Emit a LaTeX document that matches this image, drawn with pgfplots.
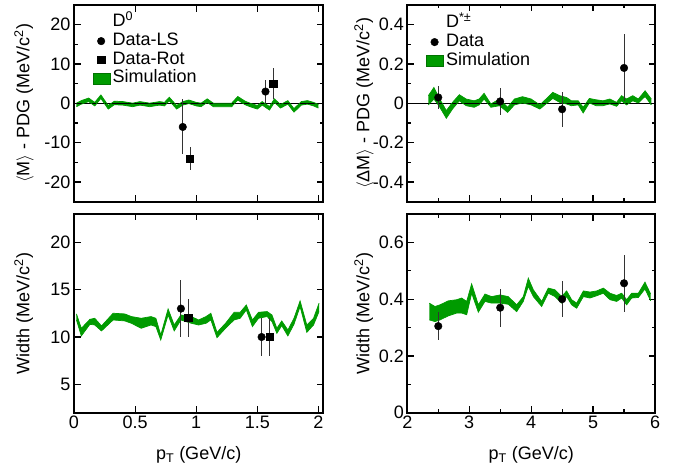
\documentclass[border=0pt]{standalone}
\usepackage{fontspec}
\setmainfont{Liberation Sans}
\usepackage{pgfplots}
\usepackage{pgfplotstable}
\pgfplotsset{compat=1.18}
\usepgfplotslibrary{fillbetween}
\definecolor{simgreen}{RGB}{0,155,0}

% simulation bands: x, lower edge, upper edge
\pgfplotstableread{
x lo hi
0.02 -0.85 0.05
0.06 -0.20 0.70
0.12 0.45 1.35
0.17 -0.65 0.25
0.22 1.25 2.15
0.28 -1.45 -0.55
0.33 -0.35 0.55
0.40 -0.45 0.45
0.48 -0.85 0.05
0.54 -0.45 0.45
0.62 -0.85 0.05
0.70 -0.45 0.45
0.74 -0.65 0.25
0.78 0.65 1.55
0.84 -1.45 -0.55
0.89 -0.45 0.45
0.94 -0.05 0.85
1.00 -0.65 0.25
1.04 -0.85 0.05
1.09 0.25 1.15
1.14 -0.85 0.05
1.21 -0.85 0.05
1.29 -0.85 0.05
1.34 0.85 1.75
1.40 -0.35 0.55
1.44 -0.85 0.05
1.50 -1.45 -0.55
1.54 -0.45 0.45
1.60 -1.70 -0.80
1.64 0.25 1.15
1.69 -1.20 -0.30
1.75 -0.20 0.70
1.80 -2.25 -1.35
1.86 -0.45 0.45
1.91 -0.20 0.70
1.96 -0.65 0.25
2.00 -1.20 -0.30
}\bandMA

\pgfplotstableread{
x lo hi
2.34 -0.008 0.039
2.43 0.022 0.081
2.51 -0.012 0.030
2.63 -0.076 -0.037
2.73 -0.029 0.005
2.84 0.013 0.044
2.95 -0.012 0.022
3.08 -0.020 0.013
3.16 -0.008 0.022
3.24 0.022 0.051
3.35 -0.020 -0.003
3.49 -0.012 0.022
3.62 -0.046 -0.020
3.73 -0.008 0.022
3.86 0.002 0.034
4.00 -0.008 0.022
4.14 -0.029 -0.008
4.24 -0.003 0.022
4.35 0.025 0.056
4.46 0.005 0.039
4.57 -0.003 0.030
4.65 -0.012 0.013
4.76 -0.008 0.013
4.84 -0.049 -0.020
4.94 0.002 0.025
5.05 -0.012 0.018
5.16 -0.012 0.013
5.27 -0.003 0.022
5.38 -0.015 0.005
5.46 0.013 0.039
5.54 -0.008 0.022
5.64 0.013 0.039
5.73 0.002 0.022
5.84 0.035 0.064
5.94 -0.008 0.022
}\bandMB

\pgfplotstableread{
x lo hi
0.02 11.80 12.44
0.06 10.11 10.92
0.13 11.34 11.87
0.17 11.27 11.98
0.225 10.64 11.17
0.32 11.80 12.51
0.415 11.70 12.44
0.47 11.45 12.16
0.55 10.92 11.98
0.63 11.27 12.16
0.67 11.10 11.98
0.71 9.68 10.21
0.77 12.33 12.97
0.82 10.64 11.27
0.875 11.80 12.33
0.96 11.45 12.16
1.02 11.27 11.80
1.08 11.45 12.16
1.12 11.80 12.51
1.17 9.93 10.49
1.24 10.92 11.45
1.31 11.80 12.61
1.36 11.98 12.61
1.41 12.86 13.39
1.46 11.10 11.80
1.51 11.98 12.61
1.58 12.16 12.69
1.62 11.63 12.33
1.66 10.39 10.92
1.70 11.20 11.70
1.75 10.11 10.74
1.80 11.34 11.98
1.85 13.22 13.82
1.905 10.49 11.27
1.96 11.27 11.98
2.005 12.69 13.57
}\bandWA

\pgfplotstableread{
x lo hi
2.355 0.327 0.386
2.447 0.321 0.374
2.528 0.327 0.380
2.662 0.341 0.394
2.797 0.351 0.398
2.878 0.351 0.404
2.959 0.345 0.392
3.039 0.421 0.454
3.147 0.354 0.380
3.254 0.392 0.418
3.362 0.386 0.409
3.497 0.386 0.415
3.631 0.382 0.409
3.766 0.356 0.380
3.873 0.392 0.409
3.954 0.445 0.474
4.035 0.409 0.433
4.170 0.374 0.392
4.277 0.421 0.439
4.385 0.409 0.433
4.493 0.386 0.409
4.573 0.409 0.429
4.654 0.380 0.398
4.735 0.368 0.386
4.843 0.409 0.429
4.950 0.404 0.425
5.058 0.412 0.429
5.166 0.421 0.439
5.273 0.398 0.421
5.381 0.392 0.413
5.462 0.404 0.421
5.542 0.380 0.398
5.623 0.404 0.421
5.731 0.406 0.421
5.838 0.436 0.460
5.930 0.394 0.418
}\bandWB

\pgfplotsset{
  panel/.style={
    scale only axis,
    tick align=inside,
    xtick pos=both, ytick pos=both,
    axis line style={line width=1.8pt},
    tick style={line width=1.2pt, black},
    major tick length=6.5pt, minor tick length=3.5pt,
    /pgf/number format/assume math mode=true,
    legend cell align=left,
    legend style={draw=none, fill=none, inner sep=0pt, row sep=0.3pt, column sep=1pt,
      nodes={inner sep=1pt, text height=12.5pt, text depth=4pt}},
  },
  band/.style={draw=simgreen, line width=0.7pt, forget plot},
  errs/.style={forget plot, black, only marks,
    error bars/y dir=both, error bars/y explicit, error bars/error mark=none,
    error bars/error bar style={line width=1pt, black!80}},
  markleg/.style={legend image code/.code={\draw[mark repeat=2,mark phase=2,##1] plot coordinates {(0pt,0pt) (8pt,0pt) (16pt,0pt)};}},
  boxleg/.style={legend image code/.code={\draw[##1] (0pt,-5.5pt) rectangle (17pt,5.5pt);}},
}

\begin{document}
\begin{tikzpicture}[font=\fontsize{18}{21}\selectfont]

% top left: D0 mass
\begin{axis}[panel, at={(74pt,269.3pt)}, anchor=south west,
  width=249.3pt, height=196.7pt,
  xmin=0, xmax=2.04, ymin=-25, ymax=25,
  xtick={0,0.5,1,1.5,2}, xticklabels={},
  ytick={-20,-10,0,10,20}, minor y tick num=1,
  ylabel={$\langle$M$\rangle$ - PDG (MeV/c\textsuperscript{2})},
  ylabel style={at={(axis description cs:-0.179,0.5)}, anchor=base},
  legend style={at={(axis description cs:0.074,0.96)}, anchor=north west}]
\addplot[black, line width=0.8pt, forget plot] coordinates {(0,0) (2.04,0)};
\addplot[band, name path=ua] table[x=x,y=hi]{\bandMA};
\addplot[band, name path=la] table[x=x,y=lo]{\bandMA};
\addplot[simgreen, forget plot] fill between[of=ua and la];
\addplot[errs, mark=*, mark size=3.8pt] coordinates {(0.89,-6) +- (0,7) (1.567,3) +- (0,3)};
\addplot[errs, mark=square*, mark size=3.6pt] coordinates {(0.95,-14) +- (0,3) (1.63,5) +- (0,4)};
\addlegendimage{empty legend}
\addlegendentry{D\textsuperscript{0}}
\addlegendimage{only marks, black, mark=*, mark size=3.8pt, markleg}
\addlegendentry{Data-LS}
\addlegendimage{only marks, black, mark=square*, mark size=3.6pt, markleg}
\addlegendentry{Data-Rot}
\addlegendimage{boxleg, fill=simgreen, draw=black!55!green, line width=1pt}
\addlegendentry{Simulation}
\end{axis}

% bottom left: D0 width
\begin{axis}[panel, at={(74pt,58.3pt)}, anchor=south west,
  width=249.3pt, height=198.7pt,
  xmin=0, xmax=2.04, ymin=2, ymax=23,
  xtick={0,0.5,1,1.5,2},
  ytick={5,10,15,20},
  ylabel={Width (MeV/c\textsuperscript{2})},
  ylabel style={at={(axis description cs:-0.179,0.5)}, anchor=base},
  xlabel={p\textsubscript{T} (GeV/c)},
  xlabel style={at={(axis description cs:0.5,-0.2345)}, anchor=base}]
\addplot[band, name path=ub] table[x=x,y=hi]{\bandWA};
\addplot[band, name path=lb] table[x=x,y=lo]{\bandWA};
\addplot[simgreen, forget plot] fill between[of=ub and lb];
\addplot[errs, mark=*, mark size=3.8pt] coordinates {(0.875,13) +- (0,3) (1.535,10) +- (0,2)};
\addplot[errs, mark=square*, mark size=3.6pt] coordinates {(0.935,12) +- (0,2) (1.60,10) +- (0,2)};
\end{axis}

% top right: D* mass difference
\begin{axis}[panel, at={(407.3pt,269.3pt)}, anchor=south west,
  width=247.7pt, height=196.7pt,
  xmin=2, xmax=6, ymin=-0.5, ymax=0.5,
  xtick={2,3,4,5,6}, minor x tick num=1, xticklabels={},
  ytick={-0.4,-0.2,0,0.2,0.4}, minor y tick num=1,
  ylabel={$\langle$ΔM$\rangle$ - PDG (MeV/c\textsuperscript{2})},
  ylabel style={at={(axis description cs:-0.1534,0.5)}, anchor=base},
  legend style={at={(axis description cs:0.075,0.955)}, anchor=north west}]
\addplot[black, line width=0.8pt, forget plot] coordinates {(2,0) (6,0)};
\addplot[band, name path=uc] table[x=x,y=hi]{\bandMB};
\addplot[band, name path=lc] table[x=x,y=lo]{\bandMB};
\addplot[simgreen, forget plot] fill between[of=uc and lc];
\addplot[errs, mark=*, mark size=3.8pt] coordinates {(2.5,0.03) +- (0,0.06) (3.5,0.01) +- (0,0.07) (4.5,-0.03) +- (0,0.09) (5.5,0.18) +- (0,0.17)};
\addlegendimage{empty legend}
\addlegendentry{D\textsuperscript{*±}}
\addlegendimage{only marks, black, mark=*, mark size=3.8pt, markleg}
\addlegendentry{Data}
\addlegendimage{boxleg, fill=simgreen, draw=black!55!green, line width=1pt}
\addlegendentry{Simulation}
\end{axis}

% bottom right: D* width
\begin{axis}[panel, at={(407.3pt,58.3pt)}, anchor=south west,
  width=247.7pt, height=198.7pt,
  xmin=2, xmax=6, ymin=0, ymax=0.7,
  xtick={2,3,4,5,6}, minor x tick num=1,
  ytick={0,0.2,0.4,0.6}, minor y tick num=1,
  ylabel={Width (MeV/c\textsuperscript{2})},
  ylabel style={at={(axis description cs:-0.1534,0.5)}, anchor=base},
  xlabel={p\textsubscript{T} (GeV/c)},
  xlabel style={at={(axis description cs:0.5,-0.2345)}, anchor=base}]
\addplot[band, name path=ud] table[x=x,y=hi]{\bandWB};
\addplot[band, name path=ld] table[x=x,y=lo]{\bandWB};
\addplot[simgreen, forget plot] fill between[of=ud and ld];
\addplot[errs, mark=*, mark size=3.8pt] coordinates {(2.5,0.305) +- (0,0.05) (3.5,0.37) +- (0,0.067) (4.5,0.40) +- (0,0.063) (5.5,0.456) +- (0,0.1)};
\end{axis}
\path (0pt,0pt) rectangle (676pt,471pt);
\end{tikzpicture}
\end{document}
